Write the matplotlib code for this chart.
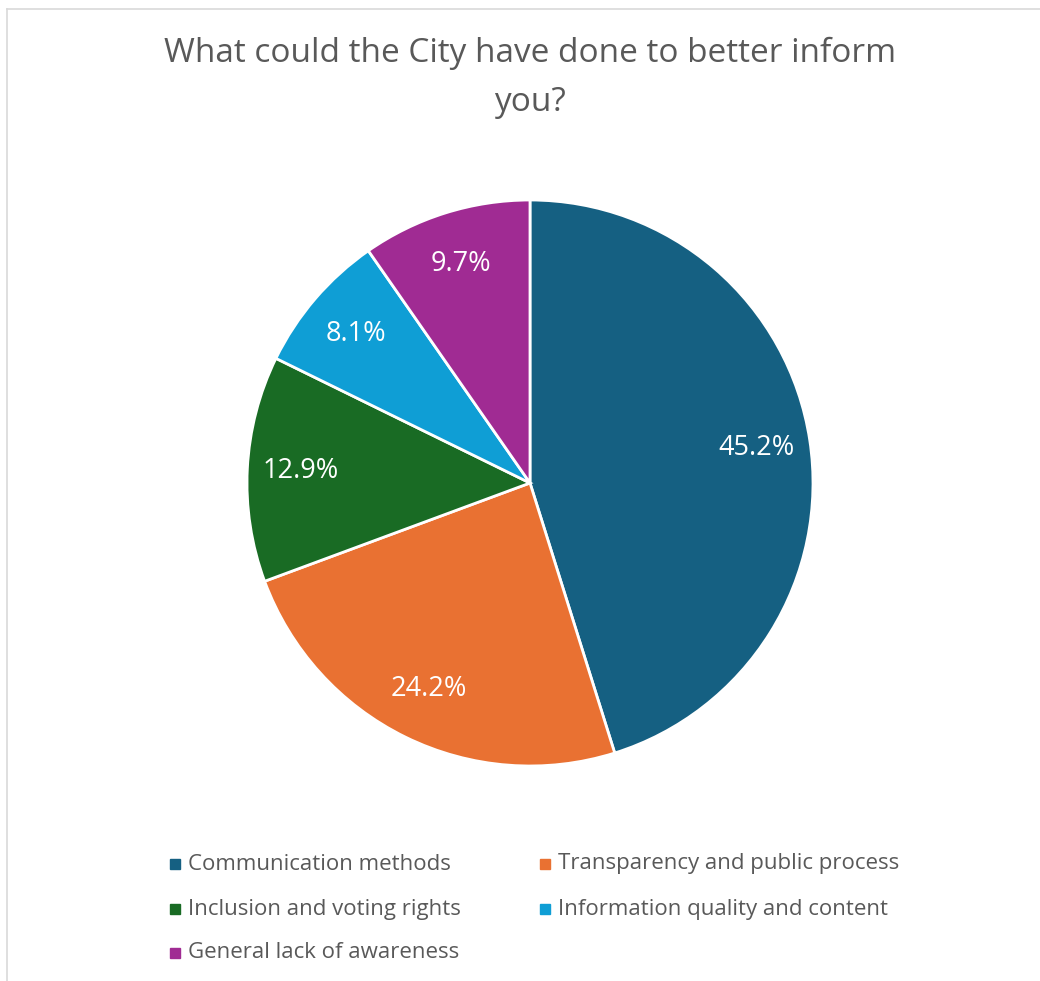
import matplotlib.pyplot as plt
from matplotlib.lines import Line2D
from matplotlib.patches import Rectangle

plt.rcParams['font.family'] = ['Open Sans', 'DejaVu Sans']

# survey responses grouped by theme
categories = ['Communication methods', 'Transparency and public process',
              'Inclusion and voting rights', 'Information quality and content',
              'General lack of awareness']
counts = [28, 15, 8, 5, 6]
colors = ['#156082', '#E97132', '#196B24', '#0F9ED5', '#A02B93']

W, H = 1040, 981
fig = plt.figure(figsize=(W / 100, H / 100), dpi=100)

# thin chart-area border (top and left visible)
fig.add_artist(Line2D([7 / W, 7 / W], [0, 1 - 9 / H], color='#d9d9d9', lw=1.2))
fig.add_artist(Line2D([7 / W, 1], [1 - 9 / H, 1 - 9 / H], color='#d9d9d9', lw=1.2))

# pie axes
cx, cy, r = 530, 483, 283
ax = fig.add_axes([(cx - r) / W, 1 - (cy + r) / H, 2 * r / W, 2 * r / H])
wedges, texts, autotexts = ax.pie(counts, colors=colors, startangle=90, counterclock=False,
                                  autopct='%1.1f%%', pctdistance=0.81,
                                  wedgeprops=dict(edgecolor='white', linewidth=2),
                                  textprops=dict(color='white', fontsize=19.5))
ax.set_xlim(-1, 1)
ax.set_ylim(-1, 1)
ax.set_aspect('equal')
ax.axis('off')

fig.text(530 / W, 1 - 78 / H, 'What could the City have done to better inform\nyou?',
         ha='center', va='center', fontsize=24, color='#595959', linespacing=1.65)

# legend, filled row by row
col_x = [175, 545]
row_y = [864, 909, 953]
for i, name in enumerate(categories):
    x = col_x[i % 2]
    y = row_y[i // 2]
    fig.add_artist(Rectangle(((x - 5) / W, 1 - (y + 5) / H), 10 / W, 10 / H,
                             color=colors[i], transform=fig.transFigure))
    fig.text((x + 13) / W, 1 - y / H, name, ha='left', va='center',
             fontsize=16, color='#595959')

fig.savefig('out.png', dpi=100, facecolor='white')
